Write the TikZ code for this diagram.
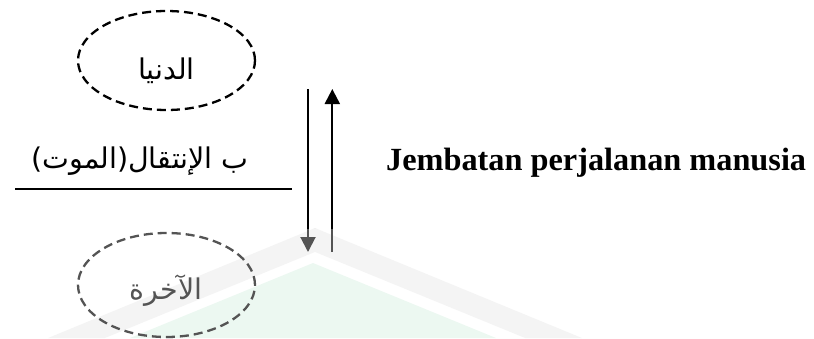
\documentclass[tikz,border=0pt]{standalone}
\usepackage{fontspec}
\setmainfont{Liberation Serif}
\newfontfamily\arabicfont[Script=Arabic]{DejaVu Sans}
\TeXXeTstate=1
\usetikzlibrary{shapes.geometric,arrows.meta}
\definecolor{wmgray}{RGB}{240,240,240}
\definecolor{wmgreen}{RGB}{228,245,235}
\tikzset{
  realm/.style={ellipse, draw=black, dashed, line width=2.3pt, dash pattern=on 9pt off 5pt,
                minimum width=177pt, minimum height=99pt, inner sep=0pt},
  artext/.style={font=\arabicfont\fontsize{28.5}{34}\selectfont, inner sep=0pt},
  flow/.style={line width=2pt, -{Triangle[length=15pt,width=15pt]}},
  title/.style={font=\bfseries\fontsize{32.3}{38}\selectfont, inner sep=0pt, anchor=base west}
}
\begin{document}
\begin{tikzpicture}[x=1pt,y=-1pt]
\useasboundingbox (0,0) rectangle (814,338);
% faint watermark
\fill[wmgray] (48,338) -- (315,228) -- (582,338) -- (525,338) -- (315,252) -- (105,338) -- cycle;
\fill[wmgreen] (130,338) -- (313,263) -- (496,338) -- cycle;
% realms
\node[realm] (dunya) at (166.5,60.5) {};
\node[artext] (dunyat) at (166.5,71) {\beginR الدنيا\endR};
\node[realm, minimum height=104pt] (akhira) at (166.5,285) {};
\node[artext] (akhirat) at (166,291) {\beginR الآخرة\endR};
% bridge label
\node[artext] (intiqal) at (140,161) {\beginR ب الإنتقال(الموت)\endR};
\coordinate (ulL) at (15,189);
\coordinate (ulR) at (292,189);
\draw[line width=1.8pt] (ulL) -- (ulR);
% arrows
\coordinate (downS) at (308,89);
\coordinate (downE) at (308,252);
\coordinate (upS) at (332.3,252);
\coordinate (upE) at (332.3,89);
\draw[flow] (downS) -- (downE);
\draw[flow] (upS) -- (upE);
% title
\node[title] (ttl) at (386,170) {Jembatan perjalanan manusia};
% watermark veil
\fill[white, opacity=0.33] (0,229) rectangle (814,338);
\end{tikzpicture}
\end{document}
